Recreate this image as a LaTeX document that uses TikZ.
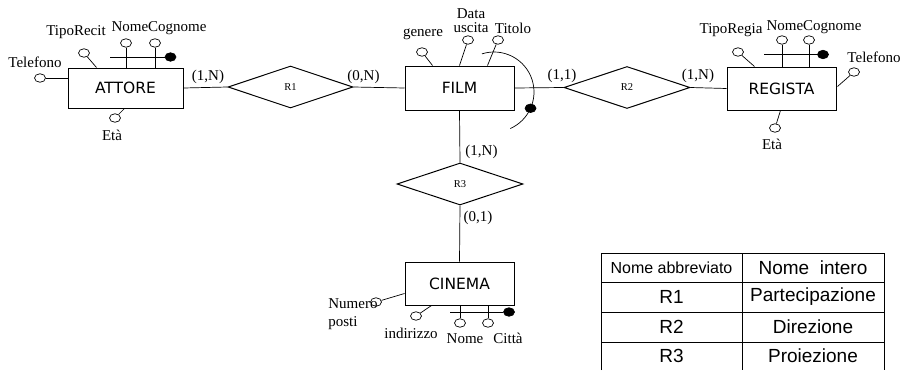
\documentclass[tikz,border=0pt]{standalone}
\usepackage{fontspec}
\newfontfamily\tnr{Liberation Serif}
\newfontfamily\dvs{DejaVu Sans}
\newfontfamily\arl{Liberation Sans}
\usetikzlibrary{shapes.geometric,calc}
\begin{document}
\begin{tikzpicture}[x=1pt,y=-1pt,line width=0.8pt,
  entity/.style={draw, rectangle, inner sep=0pt, line width=1pt, font=\dvs\fontsize{15.5}{18}\selectfont},
  rel/.style={draw, diamond, aspect=3, inner sep=0pt, line width=1pt, minimum width=126pt, minimum height=42pt, font=\tnr\fontsize{10.5}{12}\selectfont},
  attr/.style={draw, ellipse, inner sep=0pt, minimum width=11pt, minimum height=8.5pt, line width=0.7pt},
  keyattr/.style={attr, fill=black},
  lbl/.style={font=\tnr\fontsize{15}{15}\selectfont, inner sep=0pt},
  cell/.style={font=\arl\fontsize{19}{20}\selectfont, inner sep=0pt},
  thin/.style={line width=0.7pt}]
\useasboundingbox (0,0) rectangle (903,370);

% entities
\node[entity, minimum width=115pt, minimum height=40pt] (attore) at (125.5,88) {ATTORE};
\node[entity, minimum width=109pt, minimum height=44pt] (film) at (459.5,88) {FILM};
\node[entity, minimum width=109pt, minimum height=43pt] (regista) at (781.5,88.5) {REGISTA};
\node[entity, minimum width=109pt, minimum height=43pt] (cinema) at (459.5,283.5) {CINEMA};

% relationships
\node[rel, minimum width=125pt] (r1) at (290.5,87) {R1};
\node[rel] (r2) at (627,87.5) {R2};
\node[rel] (r3) at (460,184) {R3};

% connectors
\draw[thin] (attore.east) -- (r1.west);
\draw[thin] (r1.east) -- (film.west);
\draw[thin] (film.east) -- (r2.west);
\draw[thin] (r2.east) -- (regista.west);
\draw[thin] (film.south) -- (r3.north);
\draw[thin] (r3.south) -- (cinema.north);

% cardinalities
\node[lbl] (c1) at (208,77) {(1,N)};
\node[lbl] (c2) at (363.5,77) {(0,N)};
\node[lbl] (c3) at (562,76) {(1,1)};
\node[lbl] (c4) at (698,76) {(1,N)};
\node[lbl] (c5) at (481.5,152) {(1,N)};
\node[lbl] (c6) at (478,218) {(0,1)};

% ATTORE attributes
\node[attr] (a-tel) at (40,78) {};
\draw[thin] (a-tel.east) -- (attore.west |- a-tel);
\node[lbl] (l-atel) at (35,62) {Telefono};
\node[attr] (a-tipo) at (84,53) {};
\draw[thin] (a-tipo) -- ($(attore.north west)+(29,0)$);
\node[lbl] (l-atipo) at (76,32) {TipoRecit};
\node[attr] (a-nome) at (126,43) {};
\draw[thin] (a-nome) -- (a-nome |- attore.north);
\node[attr] (a-cogn) at (155,43) {};
\draw[thin] (a-cogn) -- (a-cogn |- attore.north);
\node[keyattr] (a-key) at (170.5,57) {};
\coordinate (a-keyend) at (110,57);
\draw[thin] (a-keyend) -- (a-key);
\node[lbl] (l-anc) at (159,28) {NomeCognome};
\node[attr] (a-eta) at (115,118) {};
\draw[thin] (a-eta) -- ($(attore.south west)+(57,0)$);
\node[lbl] (l-aeta) at (112,135) {Età};

% FILM attributes
\node[attr] (f-gen) at (422,52) {};
\draw[thin] (f-gen) -- ($(film.north west)+(28,0)$);
\node[lbl] (l-fgen) at (423,34) {genere};
\node[attr] (f-data) at (468,40) {};
\draw[thin] (f-data) -- ($(film.north west)+(55,0)$);
\node[lbl, align=center, font=\tnr\fontsize{15}{14}\selectfont] (l-fdata) at (471,21) {Data\\uscita};
\node[attr] (f-tit) at (498,40) {};
\draw[thin] (f-tit) -- ($(film.north west)+(83,0)$);
\node[lbl] (l-ftit) at (513,28) {Titolo};
\draw[thin] ($(494,92)+(-107.5:40)$) arc[start angle=-107.5, end angle=66, radius=40];
\node[keyattr] (f-key) at ($(494,92)+(24:40)$) {};

% REGISTA attributes
\node[attr] (g-tipo) at (738,52) {};
\draw[thin] (g-tipo) -- ($(regista.north west)+(28,0)$);
\node[lbl] (l-gtipo) at (731,30) {TipoRegia};
\node[attr] (g-nome) at (782,40) {};
\draw[thin] (g-nome) -- (g-nome |- regista.north);
\node[attr] (g-cogn) at (809,40) {};
\draw[thin] (g-cogn) -- (g-cogn |- regista.north);
\node[keyattr] (g-key) at (823,54.5) {};
\coordinate (g-keyend) at (764,54.5);
\draw[thin] (g-keyend) -- (g-key);
\node[lbl] (l-gnc) at (814,27) {NomeCognome};
\node[attr] (g-tel) at (854,72) {};
\draw[thin] (g-tel) -- ($(regista.north east)+(1,20)$);
\node[lbl] (l-gtel) at (874,57) {Telefono};
\node[attr] (g-eta) at (775,128) {};
\draw[thin] (g-eta) -- ($(regista.south west)+(54,0)$);
\node[lbl] (l-geta) at (772,144) {Età};

% CINEMA attributes
\node[attr] (c-num) at (376,302) {};
\draw[thin] (c-num) -- ($(cinema.north west)+(0,32)$);
\node[lbl, align=left, anchor=west, font=\tnr\fontsize{15}{18}\selectfont] (l-cnum) at (328,314) {Numero\\posti};
\node[attr] (c-ind) at (416,316) {};
\draw[thin] (c-ind) -- ($(cinema.south west)+(27,0)$);
\node[lbl] (l-cind) at (411,333) {indirizzo};
\node[attr] (c-nome) at (460,323) {};
\draw[thin] (c-nome) -- (c-nome |- cinema.south);
\node[lbl] (l-cnome) at (465,339) {Nome};
\node[attr] (c-citta) at (488,323) {};
\draw[thin] (c-citta) -- (c-citta |- cinema.south);
\node[lbl] (l-ccitta) at (508,338) {Città};
\node[keyattr] (c-key) at (509,312) {};
\coordinate (c-keyend) at (450,312);
\draw[thin] (c-keyend) -- (c-key);

% legend table
\draw[thin] (601,370) -- (601,253) -- (884,253) -- (884,370);
\draw[thin] (742,253) -- (742,370);
\draw[thin] (601,282) -- (884,282);
\draw[thin] (601,312) -- (884,312);
\draw[thin] (601,342) -- (884,342);
\node[cell, font=\arl\fontsize{16}{18}\selectfont] (t00) at (671.5,268) {Nome abbreviato};
\node[cell] (t01) at (813,268) {Nome\ \ intero};
\node[cell] (t10) at (671.5,297) {R1};
\node[cell] (t11) at (813,297) {Partecipazione};
\node[cell] (t20) at (671.5,327) {R2};
\node[cell] (t21) at (813,327) {Direzione};
\node[cell] (t30) at (671.5,356) {R3};
\node[cell] (t31) at (813,356) {Proiezione};
\end{tikzpicture}
\end{document}
